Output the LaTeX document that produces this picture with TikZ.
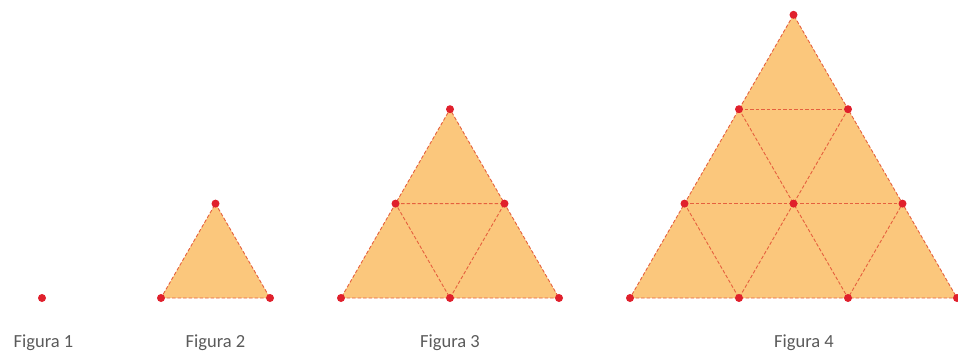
\documentclass[tikz,border=0pt]{standalone}
\usepackage{fontspec}
\setmainfont{Carlito}
\usepackage{xcolor}
\usepackage{tikz}
\definecolor{trifill}{HTML}{FBC77C}
\definecolor{triline}{HTML}{E5603E}
\definecolor{dotred}{HTML}{E0202C}
\definecolor{labelgray}{HTML}{5A5A5A}
\tikzset{
  tri/.style={fill=trifill, draw=triline, line width=0.9pt, dash pattern=on 3.5pt off 2pt},
  grid/.style={draw=triline, line width=0.9pt, dash pattern=on 3.5pt off 2pt},
  pt/.style={fill=dotred},
  lbl/.style={text=labelgray, anchor=base, font=\fontsize{18.5}{20}\selectfont}
}
\begin{document}
\begin{tikzpicture}[x=1pt, y=-1pt]
    \useasboundingbox (0,0) rectangle (958,356);
    % Figura 1
    \coordinate (P1) at (42, 298);
    \fill[pt] (P1) circle (4);
    \node[lbl] (L1) at (43.5, 347) {Figura 1};
    % Figura 2
    \coordinate (A2) at (161, 298);
    \coordinate (B2) at (270, 298);
    \coordinate (C2) at (215.5, 203.6);
    \draw[tri] (A2) -- (B2) -- (C2) -- cycle;
    \foreach \p in {A2,B2,C2} \fill[pt] (\p) circle (4);
    \node[lbl] (L2) at (215.5, 347) {Figura 2};
    % Figura 3
    \coordinate (A3) at (341, 298);
    \coordinate (B3) at (450, 298);
    \coordinate (C3) at (559, 298);
    \coordinate (D3) at (395.5, 203.6);
    \coordinate (E3) at (504.5, 203.6);
    \coordinate (F3) at (450, 109.2);
    \draw[tri] (A3) -- (C3) -- (F3) -- cycle;
    \draw[grid] (D3) -- (E3) -- (B3) -- cycle;
    \foreach \p in {A3,B3,C3,D3,E3,F3} \fill[pt] (\p) circle (4);
    \node[lbl] (L3) at (450, 347) {Figura 3};
    % Figura 4
    \coordinate (A4) at (630, 298);
    \coordinate (B4) at (739, 298);
    \coordinate (C4) at (848, 298);
    \coordinate (D4) at (957, 298);
    \coordinate (E4) at (684.5, 203.6);
    \coordinate (F4) at (793.5, 203.6);
    \coordinate (G4) at (902.5, 203.6);
    \coordinate (H4) at (739, 109.2);
    \coordinate (I4) at (848, 109.2);
    \coordinate (J4) at (793.5, 14.8);
    \draw[tri] (A4) -- (D4) -- (J4) -- cycle;
    \draw[grid] (E4) -- (G4);
    \draw[grid] (H4) -- (I4);
    \draw[grid] (E4) -- (B4) -- (F4) -- (C4) -- (G4);
    \draw[grid] (H4) -- (F4) -- (I4);
    \foreach \p in {A4,B4,C4,D4,E4,F4,G4,H4,I4,J4} \fill[pt] (\p) circle (4);
    \node[lbl] (L4) at (804, 347) {Figura 4};
\end{tikzpicture}
\end{document}
